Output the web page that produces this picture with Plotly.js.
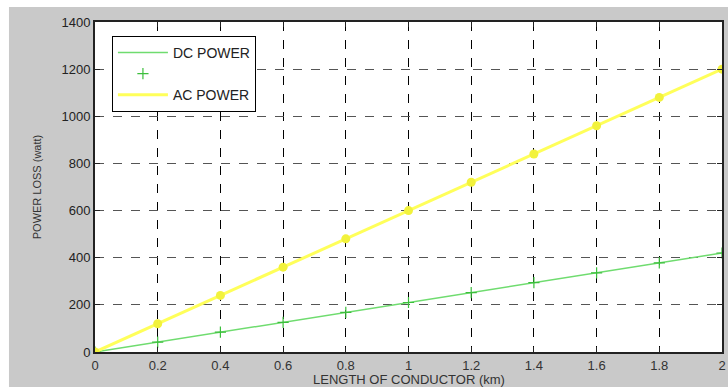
<!DOCTYPE html>
<html>
<head>
<meta charset="utf-8">
<script src="https://cdn.plot.ly/plotly-3.0.1.min.js"></script>
<style>html,body{margin:0;padding:0;background:#fff;}#chart{width:728px;height:387px;}</style>
</head>
<body>
<div id="chart"></div>
<script>
const lengthKm = [0, 0.2, 0.4, 0.6, 0.8, 1.0, 1.2, 1.4, 1.6, 1.8, 2.0];
const dcPower = [0, 42, 84, 126, 168, 210, 252, 294, 336, 378, 420];
const acPower = [0, 120, 240, 360, 480, 600, 720, 840, 960, 1080, 1200];
const xTicks = [0, 0.2, 0.4, 0.6, 0.8, 1, 1.2, 1.4, 1.6, 1.8, 2];
const xTickText = ['0', '0.2', '0.4', '0.6', '0.8', '1', '1.2', '1.4', '1.6', '1.8', '2'];
const yTicks = [0, 200, 400, 600, 800, 1000, 1200, 1400];

const green = '#6fdc6f';
const yellow = '#ffff5a';

const traces = [
  {x: lengthKm, y: dcPower, mode: 'lines', name: 'DC POWER',
   line: {color: green, width: 1.5}},
  {x: lengthKm, y: dcPower, mode: 'markers', name: ' ',
   marker: {symbol: 'cross-thin-open', size: 8, color: '#3cbf3c', line: {width: 1.2, color: '#3cbf3c'}}},
  {x: lengthKm, y: acPower, mode: 'lines', name: 'AC POWER',
   line: {color: yellow, width: 3}},
  {x: lengthKm, y: acPower, mode: 'markers', name: 'AC marks', showlegend: false,
   marker: {symbol: 'circle', size: 9, color: '#f2f23c'}}
];

const layout = {
  width: 728, height: 387,
  margin: {l: 95, r: 6, t: 22, b: 35},
  paper_bgcolor: '#c9c9c9',
  plot_bgcolor: '#ffffff',
  font: {family: 'Liberation Sans, Arial, sans-serif', color: '#111', size: 13},
  showlegend: true,
  legend: {
    x: 0.027, y: 0.958, xanchor: 'left', yanchor: 'top',
    bgcolor: '#ffffff', bordercolor: '#000', borderwidth: 1,
    font: {size: 14, family: 'Liberation Sans, Arial, sans-serif', color: '#222'},
    tracegroupgap: 0, itemwidth: 50
  },
  xaxis: {
    range: [0, 2], tickvals: xTicks, ticktext: xTickText,
    showgrid: true, gridcolor: '#000', griddash: 'dash', gridwidth: 1,
    zeroline: false, showline: true, linecolor: '#222', linewidth: 2, mirror: 'ticks',
    ticks: 'inside', ticklen: 5, tickcolor: '#222',
    tickfont: {size: 13, color: '#333'}
  },
  yaxis: {
    range: [0, 1400], tickvals: yTicks,
    showgrid: true, gridcolor: '#555', griddash: 'dash', gridwidth: 1,
    zeroline: false, showline: true, linecolor: '#222', linewidth: 2, mirror: 'ticks',
    ticks: 'inside', ticklen: 5, tickcolor: '#222',
    tickfont: {size: 13, color: '#222'},
    title: {text: 'POWER LOSS (watt)', font: {size: 11, color: '#333'}, standoff: 18}
  },
  annotations: [
    {text: 'LENGTH OF CONDUCTOR (km)', xref: 'paper', yref: 'paper', x: 0.5, y: -0.082,
     xanchor: 'center', yanchor: 'middle', showarrow: false, font: {size: 13, color: '#333'}}
  ],
  shapes: [
    {type: 'rect', xref: 'paper', yref: 'paper', x0: -0.2, x1: 1.02, y0: 1.0455, y1: 1.1, fillcolor: '#ffffff', line: {width: 0}, layer: 'above'},
    {type: 'rect', xref: 'paper', yref: 'paper', x0: -0.2, x1: -0.1372, y0: -0.2, y1: 1.1, fillcolor: '#ffffff', line: {width: 0}, layer: 'above'}
  ]
};

Plotly.newPlot('chart', traces, layout, {displayModeBar: false, staticPlot: true});
</script>
</body>
</html>
